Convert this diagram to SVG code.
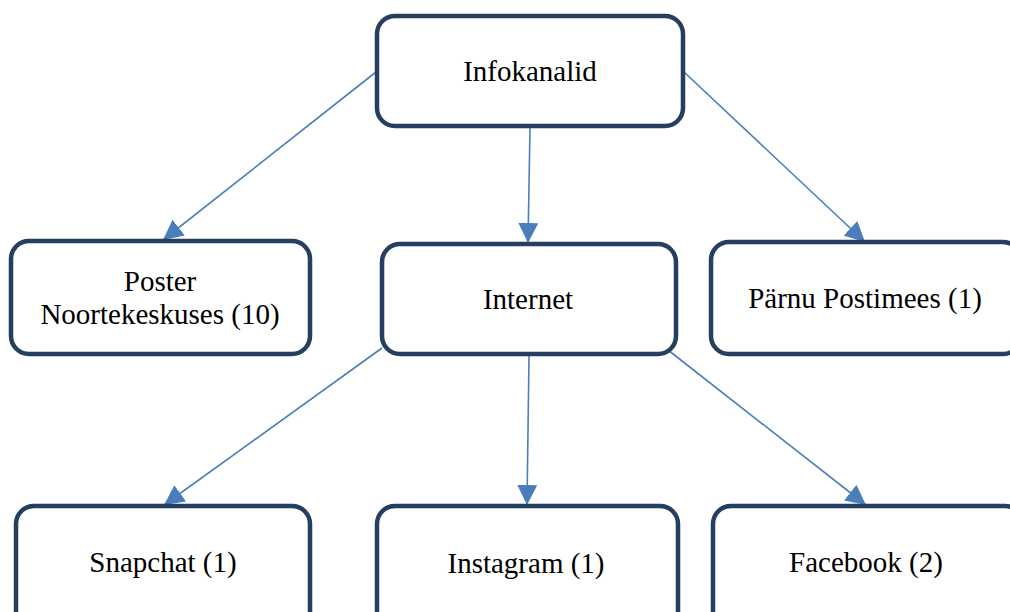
<svg xmlns="http://www.w3.org/2000/svg" width="1010" height="612" viewBox="0 0 1010 612">
<style>
.box{fill:#fff;stroke:#243f60;stroke-width:4.5}
.con{stroke:#4a7ebb;stroke-width:1.6;fill:none}
.lbl{font-family:'Liberation Serif','Times New Roman',serif;font-size:29px;fill:#000;text-anchor:middle}
</style>
<defs>
<marker id="ah" viewBox="0 0 10 10" refX="10" refY="5" markerWidth="20" markerHeight="20" markerUnits="userSpaceOnUse" orient="auto">
<path d="M0,0 L10,5 L0,10 z" fill="#4a7ebb"/>
</marker>
</defs>
<rect width="1010" height="612" fill="#fff"/>
<g id="connectors">
<line class="con" x1="376" y1="72" x2="163" y2="240" marker-end="url(#ah)"/>
<line class="con" x1="530" y1="128" x2="528" y2="243" marker-end="url(#ah)"/>
<line class="con" x1="684" y1="72" x2="865" y2="242" marker-end="url(#ah)"/>
<line class="con" x1="382" y1="348" x2="164" y2="505" marker-end="url(#ah)"/>
<line class="con" x1="529" y1="356" x2="527" y2="505" marker-end="url(#ah)"/>
<line class="con" x1="668" y1="350" x2="866" y2="505" marker-end="url(#ah)"/>
</g>
<g id="infokanalid">
<rect class="box" x="377" y="16" width="306" height="110" rx="18"/>
<text class="lbl" x="530" y="81">Infokanalid</text>
</g>
<g id="poster">
<rect class="box" x="11" y="241" width="299" height="113" rx="18"/>
<text class="lbl" x="160" y="291">Poster</text>
<text class="lbl" x="160" y="324">Noortekeskuses (10)</text>
</g>
<g id="internet">
<rect class="box" x="382" y="244" width="294" height="110" rx="18"/>
<text class="lbl" x="528" y="309">Internet</text>
</g>
<g id="parnu">
<rect class="box" x="711" y="242" width="310" height="112" rx="18"/>
<text class="lbl" x="865" y="308">Pärnu Postimees (1)</text>
</g>
<g id="snapchat">
<rect class="box" x="16" y="506" width="294" height="130" rx="18"/>
<text class="lbl" x="163" y="572">Snapchat (1)</text>
</g>
<g id="instagram">
<rect class="box" x="377" y="506" width="301" height="130" rx="18"/>
<text class="lbl" x="526" y="573">Instagram (1)</text>
</g>
<g id="facebook">
<rect class="box" x="713" y="506" width="310" height="130" rx="18"/>
<text class="lbl" x="866" y="572">Facebook (2)</text>
</g>
</svg>
